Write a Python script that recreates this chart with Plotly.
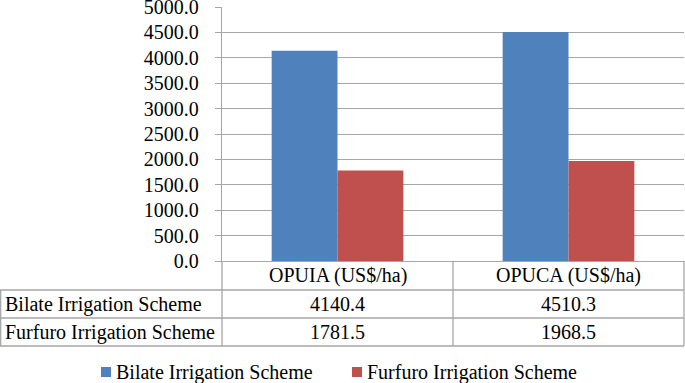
import plotly.graph_objects as go

categories = ["OPUIA (US$/ha)", "OPUCA (US$/ha)"]
series_names = ["Bilate Irrigation Scheme", "Furfuro Irrigation Scheme"]
bilate = [4140.4, 4510.3]
furfuro = [1781.5, 1968.5]
series_values = [bilate, furfuro]
colors = ["#4F81BD", "#C0504D"]
y_ticks = [0, 500, 1000, 1500, 2000, 2500, 3000, 3500, 4000, 4500, 5000]

W, H = 685, 383
L, R, T, B = 222, 684, 7, 261
FONT = "Liberation Serif"
GRID = "#a6a6a6"
FS = 20


def px(x):
    return (x - L) / (R - L)


def py(y):
    return (B - y) / (B - T)


fig = go.Figure()
for name, vals, col in zip(series_names, series_values, colors):
    fig.add_trace(go.Bar(x=categories, y=vals, name=name, showlegend=False,
                         marker=dict(color=col, line=dict(width=0))))

shapes = []


def line(x0, y0, x1, y1):
    shapes.append(dict(type="line", xref="paper", yref="paper", x0=px(x0), y0=py(y0),
                       x1=px(x1), y1=py(y1), line=dict(color=GRID, width=1.3)))


# data table grid
row_lines = [290, 318, 346]
for yy in row_lines:
    line(0, yy, R, yy)
line(0.7, 290, 0.7, 346)
col_lines = [L, 453, R]
for xx in col_lines:
    line(xx, B, xx, 346)

annotations = []
cat_centers = [(L + 453) / 2, (453 + R) / 2]
header_y = (B + 290) / 2
row_ys = [(290 + 318) / 2, (318 + 346) / 2]
for c, cx in zip(categories, cat_centers):
    annotations.append(dict(text=c, x=px(cx), y=py(header_y), xref="paper", yref="paper",
                            showarrow=False, xanchor="center", yanchor="middle",
                            font=dict(family=FONT, size=FS, color="black")))
for name, vals, ry in zip(series_names, series_values, row_ys):
    annotations.append(dict(text=name, x=px(3), y=py(ry), xref="paper", yref="paper",
                            showarrow=False, xanchor="left", yanchor="middle",
                            font=dict(family=FONT, size=FS, color="black")))
    for v, cx in zip(vals, cat_centers):
        annotations.append(dict(text=f"{v:.1f}", x=px(cx), y=py(ry), xref="paper", yref="paper",
                                showarrow=False, xanchor="center", yanchor="middle",
                                font=dict(family=FONT, size=FS, color="black")))

# legend (drawn as swatches + labels)
legend_x = [101, 352]
legend_y = 372
for name, col, lx in zip(series_names, colors, legend_x):
    shapes.append(dict(type="rect", xref="paper", yref="paper",
                       x0=px(lx), x1=px(lx + 10), y0=py(legend_y - 5), y1=py(legend_y + 5),
                       fillcolor=col, line=dict(width=0)))
    annotations.append(dict(text=name, x=px(lx + 13), y=py(legend_y), xref="paper", yref="paper",
                            showarrow=False, xanchor="left", yanchor="middle",
                            font=dict(family=FONT, size=FS, color="black")))

fig.update_layout(
    width=W, height=H,
    margin=dict(l=L, r=W - R, t=T, b=H - B, pad=0, autoexpand=False),
    paper_bgcolor="white", plot_bgcolor="white",
    barmode="group", bargap=0.43, bargroupgap=0,
    font=dict(family=FONT, size=FS, color="black"),
    showlegend=False,
    shapes=shapes,
    annotations=annotations,
)
fig.update_yaxes(range=[0, 5000], tickvals=y_ticks, ticktext=[f"{t:.1f}" for t in y_ticks],
                 showgrid=True, gridcolor=GRID, gridwidth=1.3,
                 ticks="outside", ticklen=6, tickcolor=GRID, tickwidth=1.3,
                 showline=True, linecolor=GRID, linewidth=1.3,
                 zeroline=False, ticklabelstandoff=12, automargin=False,
                 ticklabeloverflow="allow",
                 tickfont=dict(family=FONT, size=FS, color="black"))
fig.update_xaxes(showticklabels=False, showline=True, linecolor=GRID, linewidth=1.3,
                 ticks="", showgrid=False, zeroline=False, automargin=False)

fig.write_html("out.html", config={"displayModeBar": False},
               post_script="document.body.style.margin='0';document.body.style.overflow='hidden';")
